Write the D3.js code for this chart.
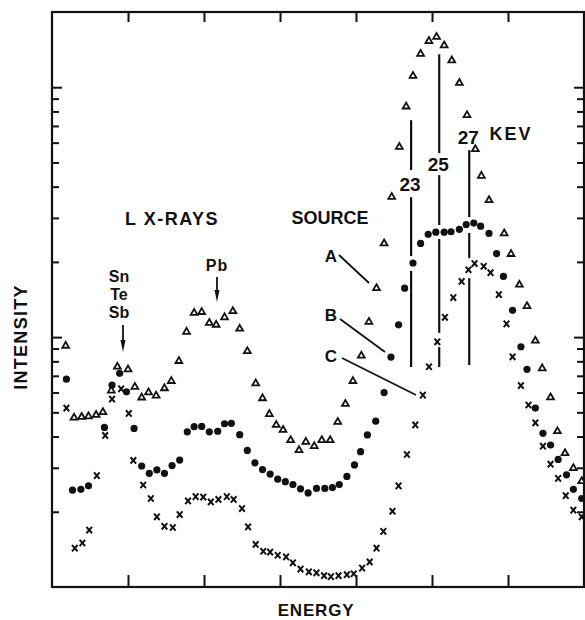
<!DOCTYPE html>
<html>
<head>
<meta charset="utf-8">
<script src="https://cdn.jsdelivr.net/npm/d3@7"></script>
<style>
  body { margin: 0; background: #fff; }
  svg text { font-family: "Liberation Sans", Arial, sans-serif; font-weight: bold; fill: #111; }
</style>
</head>
<body>
<div id="chart"></div>
<script>

// channel positions and intensities
// source A (open triangles)
var chanA = [1.8, 2.9, 3.9, 4.8, 5.8, 6.7, 7.8, 8.6, 10.0, 10.9, 11.8, 12.7, 13.7, 14.8, 15.7, 16.7, 17.7, 18.7, 19.7, 20.7,
  21.6, 22.7, 23.8, 24.7, 25.7, 26.8, 27.7, 28.6, 29.5, 30.4, 31.4, 32.5, 33.4, 34.5, 35.5, 36.6, 37.6, 38.6, 39.6, 40.7,
  41.7, 42.7, 43.7, 44.7, 45.7, 46.6, 47.5, 48.5, 49.6, 50.6, 51.6, 52.6, 53.6, 54.6, 55.7, 56.5, 57.5, 59.5, 60.4, 61.5,
  62.5, 63.6, 64.5, 65.6, 66.5, 67.5, 68.6, 69.7];
var countsA = [92.3, 47.6, 47.9, 48.2, 48.8, 50.1, 61.1, 76.1, 74.3, 63.2, 57.3, 60.1, 58.3, 62.4, 66.7, 80.2, 105, 125, 126, 114,
  112, 120, 127, 108, 87.9, 65.3, 56.9, 49.2, 44.5, 42.5, 38.7, 35.3, 38.1, 36.6, 38.7, 38.7, 45.8, 54.0, 66.7, 84.3,
  115, 157, 237, 364, 577, 837, 1110, 1360, 1530, 1590, 1470, 1280, 1040, 773, 565, 442, 353, 260, 215, 162,
  133, 96.7, 75.0, 57.4, 42.0, 34.3, 29.9, 26.5];

// source B (filled dots)
var chanB = [1.9, 2.7, 3.8, 4.8, 6.9, 7.9, 8.9, 9.8, 10.8, 11.8, 12.8, 13.8, 14.8, 15.8, 16.8, 17.8, 18.7, 19.7, 20.7, 21.8,
  22.7, 23.6, 24.7, 25.7, 26.7, 27.7, 28.7, 29.7, 30.7, 31.7, 32.7, 33.7, 34.8, 35.9, 36.9, 37.8, 38.8, 39.8, 40.6, 41.5,
  42.6, 43.7, 44.6, 45.6, 46.4, 47.5, 48.5, 49.5, 50.5, 51.6, 52.5, 53.6, 54.5, 55.5, 56.4, 57.5, 58.5, 59.4, 60.6, 61.7,
  62.5, 63.6, 64.6, 65.6, 66.6, 67.7, 68.6, 69.7];
var countsB = [67.9, 24.4, 24.6, 25.4, 43.5, 64.3, 71.6, 60.4, 43.1, 30.5, 28.5, 29.4, 28.5, 30.6, 32.2, 41.8, 43.8, 43.9, 41.8, 42.0,
  45.0, 45.2, 40.7, 35.2, 31.4, 29.5, 28.3, 27.0, 26.4, 25.7, 24.7, 23.8, 24.8, 24.8, 25.0, 25.7, 27.7, 30.8, 34.8, 40.6,
  46.1, 60.0, 83.2, 112, 157, 198, 237, 258, 263, 263, 264, 270, 282, 286, 278, 260, 216, 175, 128, 91.5,
  74.3, 52.0, 41.2, 37.0, 32.4, 28.1, 24.6, 22.6];

// source C (crosses)
var chanC = [1.9, 3.0, 4.0, 4.9, 5.9, 7.0, 7.9, 9.1, 10.1, 10.7, 12.0, 13.0, 13.8, 14.8, 15.9, 16.8, 17.9, 18.9, 19.9, 20.9,
  21.9, 23.0, 23.9, 25.0, 25.8, 26.8, 27.8, 28.7, 29.7, 30.8, 31.7, 32.7, 33.8, 34.8, 35.8, 36.7, 37.7, 38.8, 39.7, 40.8,
  41.8, 42.7, 43.6, 44.8, 45.6, 46.7, 47.8, 48.8, 49.6, 50.7, 51.7, 52.8, 53.9, 54.8, 55.6, 56.8, 57.7, 58.8, 59.8, 60.6,
  61.7, 62.7, 63.6, 64.6, 65.6, 66.6, 67.6, 68.6, 69.7];
var countsC = [52.0, 14.3, 15.0, 16.9, 27.9, 40.4, 56.5, 62.1, 49.5, 32.1, 25.6, 22.6, 19.1, 17.5, 17.3, 19.5, 22.1, 23.0, 22.9, 21.9,
  22.4, 23.0, 22.4, 20.6, 17.4, 14.8, 13.9, 13.8, 13.4, 13.2, 12.5, 11.8, 11.5, 11.4, 11.1, 11.0, 11.1, 11.2, 11.3, 11.9,
  12.6, 14.3, 16.7, 20.1, 25.4, 33.9, 44.5, 58.6, 76.1, 95.8, 120, 144, 167, 186, 197, 192, 181, 148, 113, 83.4,
  64.0, 53.5, 45.4, 36.6, 31.0, 27.2, 23.2, 20.3, 19.1];

// tick values
var xTicks = [10, 20, 30, 40, 50, 60];
var yTicks = [20, 30, 40, 50, 60, 70, 80, 90, 100, 200, 300, 400, 500, 600, 700, 800, 900, 1000];
var yMajor = [100, 1000];

// keV marker lines: channel and the visible pieces (intensity from-to)
var kevLabels = ["23", "25", "27"];
var kevChan = [47.25, 50.95, 54.9];
var kevPieces = [
  [[738, 466], [363, 211], [184, 75.9]],
  [[1355, 545], [445, 281], [247, 104], [91.2, 75.9]],
  [[560, 302], [261, 207], [172, 77.3]]
];

var width = 585, height = 620;
var margin = {top: 12, right: 1, bottom: 33, left: 52};

var svg = d3.select("#chart").append("svg")
    .attr("width", width)
    .attr("height", height);

var x = d3.scaleLinear().domain([0, 70]).range([margin.left, width - margin.right]);
var y = d3.scaleLog().domain([10, 2000]).range([height - margin.bottom, margin.top]);

var ink = "#111";

// ticks, all pointing inward
var gTop = svg.append("g").attr("transform", "translate(0," + y.range()[1] + ")")
    .call(d3.axisTop(x).tickValues(xTicks).tickSize(-10).tickFormat(""));
var gBot = svg.append("g").attr("transform", "translate(0," + y.range()[0] + ")")
    .call(d3.axisBottom(x).tickValues(xTicks).tickSize(-12).tickFormat(""));
var gLeft = svg.append("g").attr("transform", "translate(" + x.range()[0] + ",0)")
    .call(d3.axisLeft(y).tickValues(yTicks).tickSize(-7).tickFormat(""));
var gRight = svg.append("g").attr("transform", "translate(" + x.range()[1] + ",0)")
    .call(d3.axisRight(y).tickValues(yTicks).tickSize(-7).tickFormat(""));

gLeft.selectAll(".tick line").filter(function(d) { return yMajor.indexOf(d) >= 0; }).attr("x2", 10);
gRight.selectAll(".tick line").filter(function(d) { return yMajor.indexOf(d) >= 0; }).attr("x2", -10);

[gTop, gBot, gLeft, gRight].forEach(function(g) {
  g.select(".domain").remove();
  g.selectAll(".tick line").attr("stroke", ink).attr("stroke-width", 2);
});

// frame
svg.append("rect")
    .attr("x", x.range()[0])
    .attr("y", y.range()[1])
    .attr("width", x.range()[1] - x.range()[0])
    .attr("height", y.range()[0] - y.range()[1])
    .attr("fill", "none")
    .attr("stroke", ink)
    .attr("stroke-width", 2.2);

// keV lines
kevChan.forEach(function(c, i) {
  svg.selectAll(".kev" + i)
    .data(kevPieces[i])
    .enter().append("line")
      .attr("class", "kev" + i)
      .attr("x1", x(c)).attr("x2", x(c))
      .attr("y1", function(d) { return y(d[0]); })
      .attr("y2", function(d) { return y(d[1]); })
      .attr("stroke", ink)
      .attr("stroke-width", 2.2);
});

// labels on the keV lines
var kevTextY = [191, 171, 144];
kevLabels.forEach(function(t, i) {
  svg.append("text")
    .attr("x", x(kevChan[i]) - 1)
    .attr("y", kevTextY[i])
    .attr("text-anchor", "middle")
    .style("font-size", "19px")
    .text(t);
});

// data points
function zip(cs, vs) {
  return cs.map(function(c, i) { return {c: c, v: vs[i]}; });
}

svg.append("g").selectAll("path")
    .data(zip(chanC, countsC))
    .enter().append("path")
      .attr("d", "M-2.8,-3.2L2.8,3.2M2.8,-3.2L-2.8,3.2")
      .attr("transform", function(d) { return "translate(" + x(d.c) + "," + y(d.v) + ")"; })
      .attr("stroke", ink)
      .attr("stroke-width", 2)
      .attr("fill", "none");

svg.append("g").selectAll("circle")
    .data(zip(chanB, countsB))
    .enter().append("circle")
      .attr("cx", function(d) { return x(d.c); })
      .attr("cy", function(d) { return y(d.v); })
      .attr("r", 3.6)
      .attr("fill", ink);

var tri = d3.symbol().type(d3.symbolTriangle).size(20);
svg.append("g").selectAll("path")
    .data(zip(chanA, countsA))
    .enter().append("path")
      .attr("d", tri)
      .attr("transform", function(d) { return "translate(" + x(d.c) + "," + y(d.v) + ")"; })
      .attr("fill", "#fff")
      .attr("stroke", ink)
      .attr("stroke-width", 1.8);

// text annotations
function label(t, px, py, size, extra) {
  var el = svg.append("text")
    .attr("x", px).attr("y", py)
    .attr("text-anchor", "middle")
    .style("font-size", size + "px")
    .text(t);
  if (extra) el.style("letter-spacing", extra + "px");
  return el;
}

label("L X-RAYS", 172, 225, 18, 1.5);
label("SOURCE", 330, 224, 18, 0);
label("KEV", 511, 140, 18, 2);
label("A", 331, 262, 17);
label("B", 331, 321, 17);
label("C", 331, 362, 17);
label("Sn", 119, 282, 16);
label("Te", 119, 300, 16);
label("Sb", 119, 318, 16);
label("Pb", 217, 271, 16, 1);

// leader lines for A, B, C
var leaders = [[339, 255, 369, 283], [340, 319, 385, 352], [342, 358, 416, 395]];
svg.selectAll(".leader")
  .data(leaders)
  .enter().append("line")
    .attr("class", "leader")
    .attr("x1", function(d) { return d[0]; })
    .attr("y1", function(d) { return d[1]; })
    .attr("x2", function(d) { return d[2]; })
    .attr("y2", function(d) { return d[3]; })
    .attr("stroke", ink)
    .attr("stroke-width", 1.8);

// down arrows for Sb and Pb
function arrow(px, y0, y1) {
  svg.append("line")
    .attr("x1", px).attr("x2", px)
    .attr("y1", y0).attr("y2", y1 - 8)
    .attr("stroke", ink).attr("stroke-width", 1.8);
  svg.append("path")
    .attr("d", "M" + (px - 2.5) + "," + (y1 - 12) + "L" + (px + 2.5) + "," + (y1 - 12) + "L" + px + "," + y1 + "Z")
    .attr("fill", ink);
}
arrow(123, 325, 352);
arrow(217, 277, 302);

// axis titles
label("ENERGY", 316, 616, 17, 0.8);
svg.append("text")
    .attr("transform", "translate(27,337) rotate(-90)")
    .attr("text-anchor", "middle")
    .style("font-size", "18px")
    .style("letter-spacing", "1.3px")
    .text("INTENSITY");

</script>
</body>
</html>
